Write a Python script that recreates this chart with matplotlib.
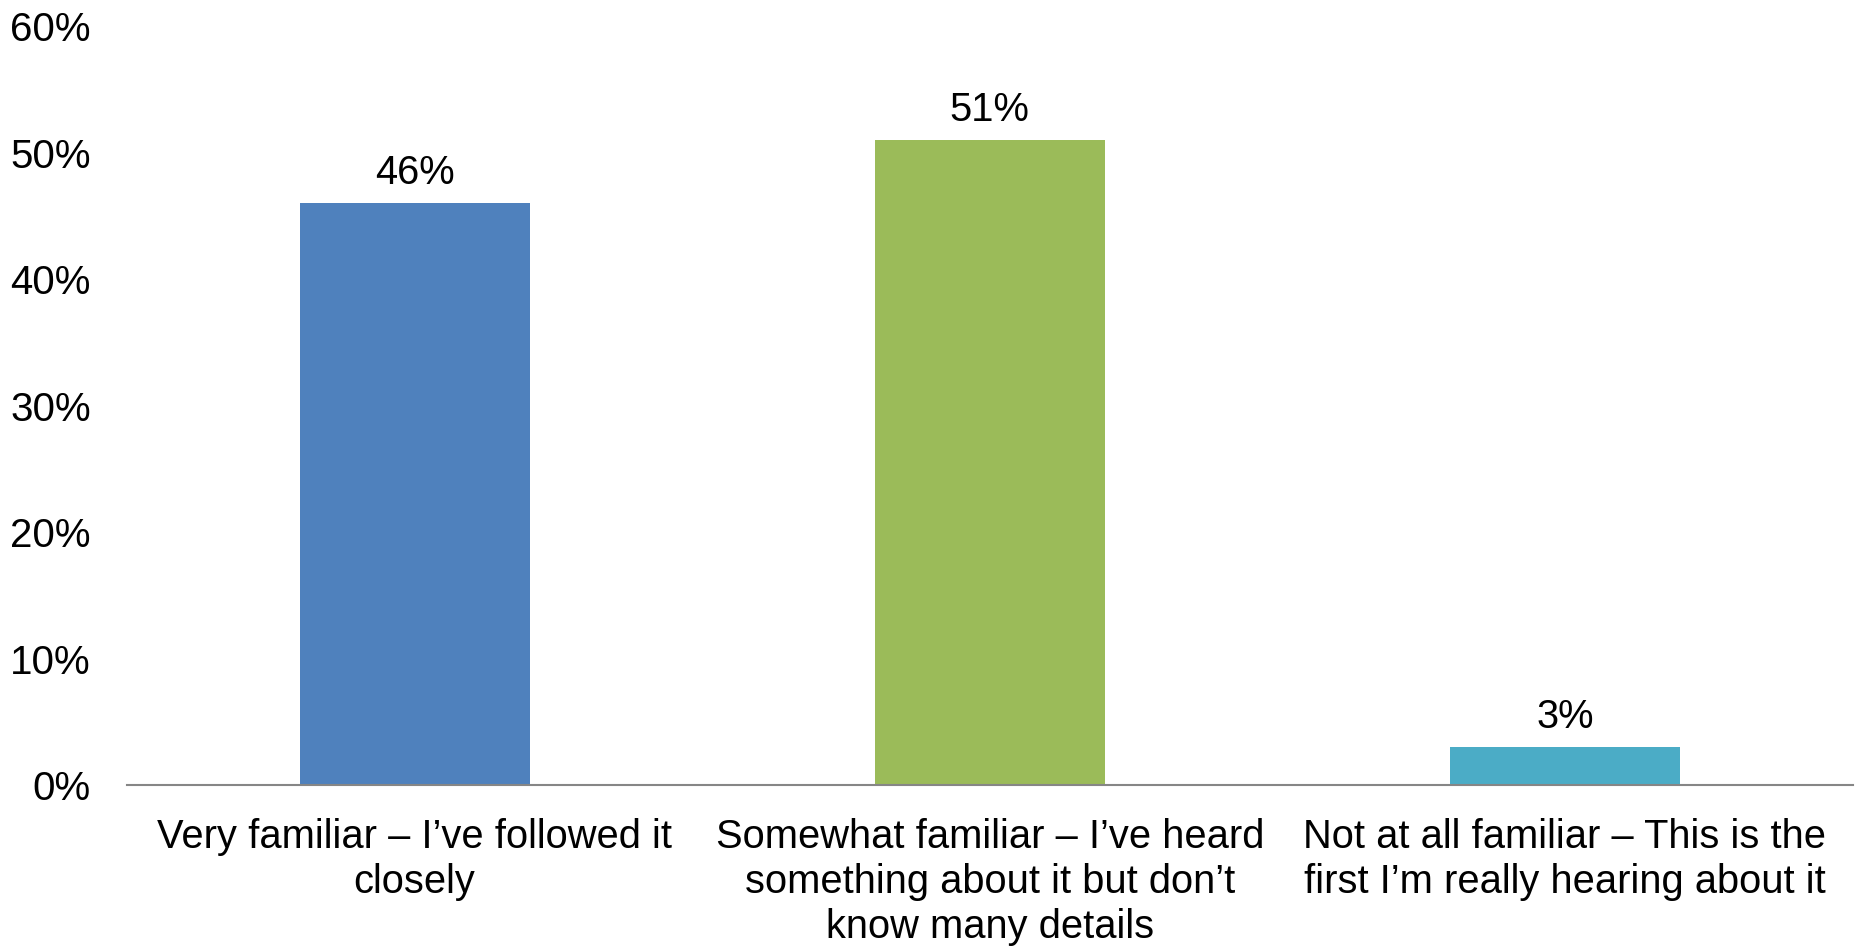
import numpy as np
import matplotlib
matplotlib.use('Agg')
import matplotlib.pyplot as plt
from matplotlib.ticker import FuncFormatter

# familiarity survey
categories = ['Very familiar \u2013 I\u2019ve followed it\nclosely',
              'Somewhat familiar \u2013 I\u2019ve heard\nsomething about it but don\u2019t\nknow many details',
              'Not at all familiar \u2013 This is the\nfirst I\u2019m really hearing about it']
values = [46, 51, 3]
colors = ['#4F81BD', '#9BBB59', '#4BACC6']
yticks = [0, 10, 20, 30, 40, 50, 60]

plt.rcParams['font.family'] = ['Liberation Sans', 'DejaVu Sans']

fig = plt.figure(figsize=(18.6, 9.47), dpi=100)
ax = fig.add_axes([0.0683, 0.171, 0.9277, 0.8015])

x = np.arange(len(categories))
bars = ax.bar(x, values, width=0.4, color=colors, zorder=2)

for b, v in zip(bars, values):
    ax.annotate('{}%'.format(v), (b.get_x() + b.get_width() / 2, v),
                xytext=(0, 8), textcoords='offset points',
                ha='center', va='bottom', fontsize=28.7)

ax.set_xlim(-0.5, 2.5)
ax.set_ylim(0, 60)
ax.set_yticks(yticks)
ax.yaxis.set_major_formatter(FuncFormatter(lambda v, p: '{:.0f}%'.format(v)))
ax.set_xticks(x)
ax.set_xticklabels(categories, fontsize=28.7, linespacing=1.24)

for s in ['top', 'right', 'left']:
    ax.spines[s].set_visible(False)
ax.spines['bottom'].set_color('#868686')
ax.spines['bottom'].set_linewidth(1.5)
ax.tick_params(axis='y', length=0, pad=26, labelsize=29)
ax.tick_params(axis='x', length=0, pad=23.5)

fig.savefig('out.png', dpi=100)
